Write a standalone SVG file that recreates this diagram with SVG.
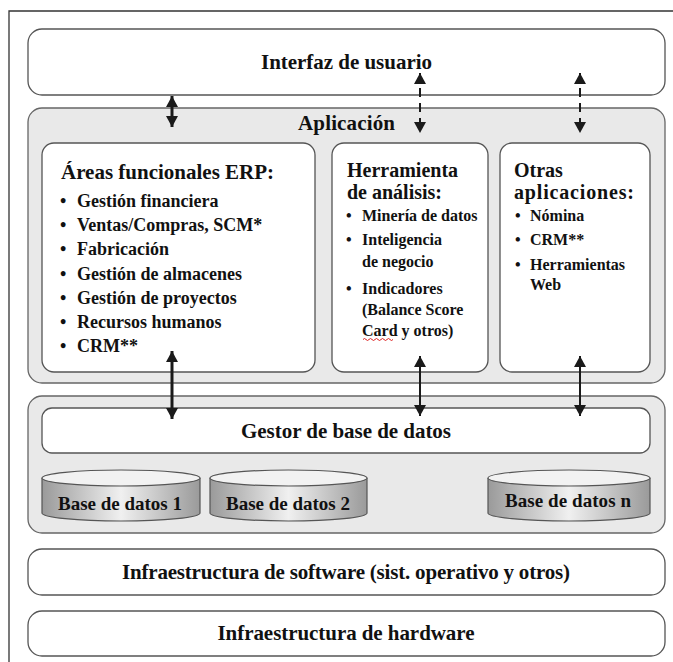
<svg xmlns="http://www.w3.org/2000/svg" width="673" height="662" viewBox="0 0 673 662">
<style>
.box{fill:#fff;stroke:#555;stroke-width:1.3}
.gbox{fill:#e9e9e9;stroke:#666;stroke-width:1.3}
.t{font-family:"Liberation Serif","DejaVu Serif",serif;font-weight:bold;fill:#111}
.c{text-anchor:middle}
.h1{font-size:21px}
.h2{font-size:21px}
.h3{font-size:20px}
.it{font-size:18px}
.it2{font-size:16px}
.db{font-size:19px}
.cyl{fill:url(#cg);stroke:#555;stroke-width:1.2}
.ctop{fill:#f2f2f2;stroke:#555;stroke-width:1.2}
.solid{stroke:#1a1a1a;stroke-width:3;fill:none}
.thin{stroke:#1a1a1a;stroke-width:2;fill:none}
.dash{stroke:#1a1a1a;stroke-width:2;fill:none;stroke-dasharray:9 6}
</style>
<defs>
<marker id="ah" markerUnits="userSpaceOnUse" markerWidth="11" markerHeight="12" refX="11" refY="6" orient="auto-start-reverse" viewBox="0 0 11 12">
<path d="M0,0 L11,6 L0,12 z" fill="#1a1a1a"/>
</marker>
<linearGradient id="cg" x1="0" y1="0" x2="1" y2="0">
<stop offset="0" stop-color="#9a9a9a"/>
<stop offset="0.5" stop-color="#f0f0f0"/>
<stop offset="1" stop-color="#9a9a9a"/>
</linearGradient>
</defs>
<rect width="673" height="662" fill="#fff"/>
<path d="M9,662 V11 H673" fill="none" stroke="#333" stroke-width="1.3"/>

<g id="interfaz">
<rect class="box" x="28" y="29" width="637" height="66" rx="14"/>
<text class="t c h1" x="346.5" y="69" textLength="171">Interfaz de usuario</text>
</g>

<g id="aplicacion">
<rect class="gbox" x="28" y="108" width="637" height="275" rx="14"/>
<text class="t c h1" x="346.5" y="130" textLength="97">Aplicación</text>
</g>

<g id="erp">
<rect class="box" x="42" y="143" width="273" height="229" rx="12"/>
<text class="t h2" x="61" y="179">Áreas funcionales ERP:</text>
<g class="t it">
<text x="60" y="207">•</text><text x="77" y="207">Gestión financiera</text>
<text x="60" y="231">•</text><text x="77" y="231">Ventas/Compras, SCM*</text>
<text x="60" y="255">•</text><text x="77" y="255">Fabricación</text>
<text x="60" y="280">•</text><text x="77" y="280">Gestión de almacenes</text>
<text x="60" y="304">•</text><text x="77" y="304">Gestión de proyectos</text>
<text x="60" y="328">•</text><text x="77" y="328">Recursos humanos</text>
<text x="60" y="352">•</text><text x="77" y="352">CRM**</text>
</g>
</g>

<g id="analisis">
<rect class="box" x="332" y="143" width="156" height="229" rx="12"/>
<text class="t h3" x="347" y="177">Herramienta</text>
<text class="t h3" x="347" y="199">de análisis:</text>
<g class="t it2">
<text x="346" y="221">•</text><text x="362" y="221">Minería de datos</text>
<text x="346" y="245">•</text><text x="362" y="245">Inteligencia</text>
<text x="362" y="267">de negocio</text>
<text x="346" y="294">•</text><text x="362" y="294">Indicadores</text>
<text x="362" y="315">(Balance Score</text>
<text x="362" y="336">Card y otros)</text>
</g>
<path d="M363,339.5 q1.5,-2 3,0 t3,0 t3,0 t3,0 t3,0 t3,0 t3,0 t3,0 t3,0 t3,0" fill="none" stroke="#d22" stroke-width="1"/>
</g>

<g id="otras">
<rect class="box" x="500" y="143" width="150" height="229" rx="12"/>
<text class="t h3" x="514" y="177">Otras</text>
<text class="t h3" x="514" y="199" textLength="120">aplicaciones:</text>
<g class="t it2">
<text x="515" y="221">•</text><text x="530" y="221">Nómina</text>
<text x="515" y="245">•</text><text x="530" y="245">CRM**</text>
<text x="515" y="270">•</text><text x="530" y="270">Herramientas</text>
<text x="530" y="290">Web</text>
</g>
</g>

<g id="datos">
<rect class="gbox" x="28" y="396" width="637" height="137" rx="14"/>
</g>

<g id="gestor">
<rect class="box" x="42" y="408" width="608" height="45" rx="10"/>
<text class="t c h1" x="346" y="438" textLength="210">Gestor de base de datos</text>
</g>

<g id="db1">
<path class="cyl" d="M42,478 V513 A79,8 0 0 0 200,513 V478"/>
<ellipse class="ctop" cx="121" cy="478" rx="79" ry="8"/>
<text class="t c db" x="120" y="510" textLength="124">Base de datos 1</text>
</g>
<g id="db2">
<path class="cyl" d="M210,478 V513 A78.5,8 0 0 0 367,513 V478"/>
<ellipse class="ctop" cx="288.5" cy="478" rx="78.5" ry="8"/>
<text class="t c db" x="288" y="510" textLength="124">Base de datos 2</text>
</g>
<g id="dbn">
<path class="cyl" d="M488,478 V513 A81,8 0 0 0 650,513 V478"/>
<ellipse class="ctop" cx="569" cy="478" rx="81" ry="8"/>
<text class="t c db" x="568" y="507" textLength="126">Base de datos n</text>
</g>

<g id="software">
<rect class="box" x="28" y="549" width="637" height="46" rx="14"/>
<text class="t c h1" x="346" y="579" textLength="448">Infraestructura de software (sist. operativo y otros)</text>
</g>

<g id="hardware">
<rect class="box" x="28" y="611" width="637" height="45" rx="14"/>
<text class="t c h1" x="346" y="640" textLength="257">Infraestructura de hardware</text>
</g>

<g id="connectors">
<line class="solid" x1="172" y1="96" x2="172" y2="127" marker-start="url(#ah)" marker-end="url(#ah)"/>
<line class="dash" x1="420" y1="73" x2="420" y2="133" marker-start="url(#ah)" marker-end="url(#ah)"/>
<line class="dash" x1="580" y1="73" x2="580" y2="133" marker-start="url(#ah)" marker-end="url(#ah)"/>
<line class="solid" x1="172" y1="351" x2="172" y2="419" marker-start="url(#ah)" marker-end="url(#ah)"/>
<line class="thin" x1="420" y1="356" x2="420" y2="416" marker-start="url(#ah)" marker-end="url(#ah)"/>
<line class="thin" x1="580" y1="356" x2="580" y2="416" marker-start="url(#ah)" marker-end="url(#ah)"/>
</g>
</svg>
